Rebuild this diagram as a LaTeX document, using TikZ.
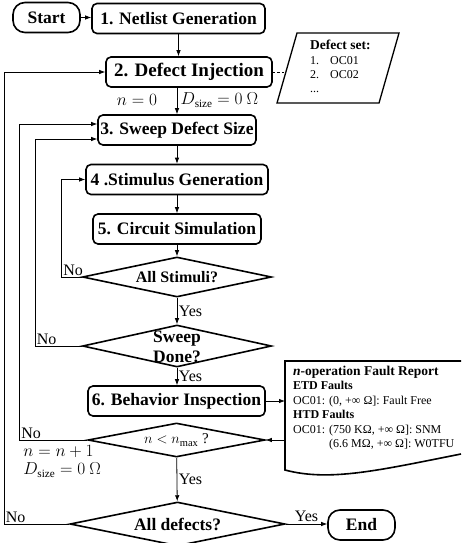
\documentclass[tikz,border=0pt]{standalone}
\usepackage{fontspec}
\setmainfont{Liberation Serif}
\usepackage{amsmath}
\usepackage{tikz}
\usetikzlibrary{arrows.meta,positioning,calc,shapes.geometric}

\begin{document}
\begin{tikzpicture}[
  x=1pt, y=-1pt,
  proc/.style={draw, rounded corners=5pt, line width=1.6pt, minimum height=30pt, inner sep=0pt, font=\fontsize{17.5}{20}\selectfont\bfseries},
  term/.style={proc, rounded corners=12pt, minimum width=67pt},
  decision/.style={diamond, draw, line width=1.6pt, aspect=5, inner sep=0pt, font=\fontsize{17.5}{20}\selectfont\bfseries},
  flow/.style={line width=0.8pt, -{Latex[length=6pt,width=4.5pt]}},
  back/.style={flow},
  lbl/.style={font=\fontsize{16}{18}\selectfont, inner sep=1.5pt},
  mlbl/.style={font=\fontsize{16}{18}\selectfont, inner sep=1.5pt},
  rep/.style={font=\fontsize{12}{14.4}\selectfont, inner sep=0pt, align=left, anchor=north west},
]
\useasboundingbox (0,0) rectangle (461,543);

% main column of steps
\node[term] (start) at (46.5,17.5) {Start};
\foreach \nm/\cx/\cy/\w/\fs/\txt in {
  net/178.5/18.5/173/17.5/{1. Netlist Generation},
  inj/189/72/166/19/{2. Defect Injection},
  sweep/177/130/158/17.5/{3. Sweep Defect Size},
  stimgen/177/179.5/182/17.5/{4 .Stimulus Generation},
  sim/177/229/168/17.5/{5. Circuit Simulation},
  insp/176.5/401/177/17.5/{6. Behavior Inspection}} {
  \node[proc, minimum width=\w, font=\fontsize{\fs}{20}\selectfont\bfseries] (\nm) at (\cx,\cy) {\txt};
}

% decisions
\node[decision, minimum width=189, minimum height=40, font=\fontsize{16}{20}\selectfont\bfseries] (allstim) at (177,277) {All Stimuli?};
\node[decision, minimum width=189, minimum height=42] (done) at (177,346) {};
\node[font=\fontsize{17.5}{20}\selectfont\bfseries, align=center, inner sep=0pt] (donetxt) at (177,347) {Sweep\\Done?};
\node[decision, minimum width=177, minimum height=34, font=\fontsize{15}{18}\selectfont] (nmax) at (176.5,440) {$n < n_{\max}$ ?};
\node[decision, minimum width=215, minimum height=44] (alldef) at (177.5,524) {All defects?};
\node[term, minimum height=30] (end) at (361.5,525) {End};

% defect set (data)
\draw[line width=1.3pt] (277,103) -- (297,33) -- (399,33) -- (379,103) -- cycle;
\coordinate (dsl) at (285,72);
\node[rep] (defset) at (310,40) {{\fontsize{13.5}{14.4}\selectfont\bfseries Defect set:}\\\makebox[20pt][l]{1.}OC01\\\makebox[20pt][l]{2.}OC02\\...};

% fault report (document)
\coordinate (rin) at (285,401);
\coordinate (rout) at (285,440);
\draw[line width=1.6pt] (461,361) -- (285,361) -- (285,470) .. controls (330,482) and (380,470) .. (461,454);
\node[rep] (report) at (293,366) {{\fontsize{13.5}{14.4}\selectfont\bfseries\textit{n}-operation Fault Report}\\
  \textbf{ETD Faults}\\
  OC01: (0, +∞ Ω]: Fault Free\\
  \textbf{HTD Faults}\\
  OC01: (750 KΩ, +∞ Ω]: SNM\\
  \phantom{OC01: }(6.6 MΩ, +∞ Ω]: W0TFU};

% forward flow
\draw[flow] (start.east) -- (start.east -| net.west);
\draw[flow] (net.south) -- (net.south |- inj.north);
\draw[dashed, dash pattern=on 2.5pt off 2pt, line width=0.8pt] (inj) -- (dsl);
\draw[flow] (sweep.north |- inj.south) -- (sweep.north);
\node[mlbl] (n0) at (137,100) {$n = 0$};
\node[mlbl, anchor=west] (d0) at (179,100) {$D_{\text{size}} = 0\ \Omega$};
\draw[flow] (sweep) -- (stimgen);
\draw[flow] (stimgen) -- (sim);
\draw[flow] (sim) -- (allstim);
\draw[flow] (allstim) -- node[lbl, right] (yes1) {Yes} (done);
\draw[flow] (done.south) -- node[lbl, right] (yes2) {Yes} (done.south |- insp.north);
\draw[flow] (insp) -- (rin);
\draw[flow] (rout) -- (nmax);
\draw[flow] (nmax) -- node[lbl, right] (yes3) {Yes} (alldef);
\draw[flow] (alldef.east) -- node[lbl, above] (yes4) {Yes} (alldef.east -| end.west);

% feedback loops
\draw[back] (allstim.west) -- ++(-20,0) coordinate (nostim) |- (stimgen.west);
\node[lbl, above right] (no1) at (nostim) {No};
\draw[back] (done.west) -- ++(-46.5,0) coordinate (nodone) |- ([yshift=-9pt]sweep.west);
\node[lbl, above right] (no2) at (nodone) {No};
\draw[back] (nmax.west) -- ++(-67.5,0) coordinate (nonmax) |- ([yshift=6pt]sweep.west);
\node[lbl, above right] (no3) at (nonmax) {No};
\node[mlbl, align=left, anchor=north west] (nupd) at ([xshift=2pt,yshift=-4pt]nonmax) {$n = n + 1$\\$D_{\text{size}} = 0\ \Omega$};
\draw[back] (alldef.west) -- ++(-65,0) coordinate (nodef) |- (inj.west);
\node[lbl, above right] (no4) at (nodef) {No};

\end{tikzpicture}
\end{document}
